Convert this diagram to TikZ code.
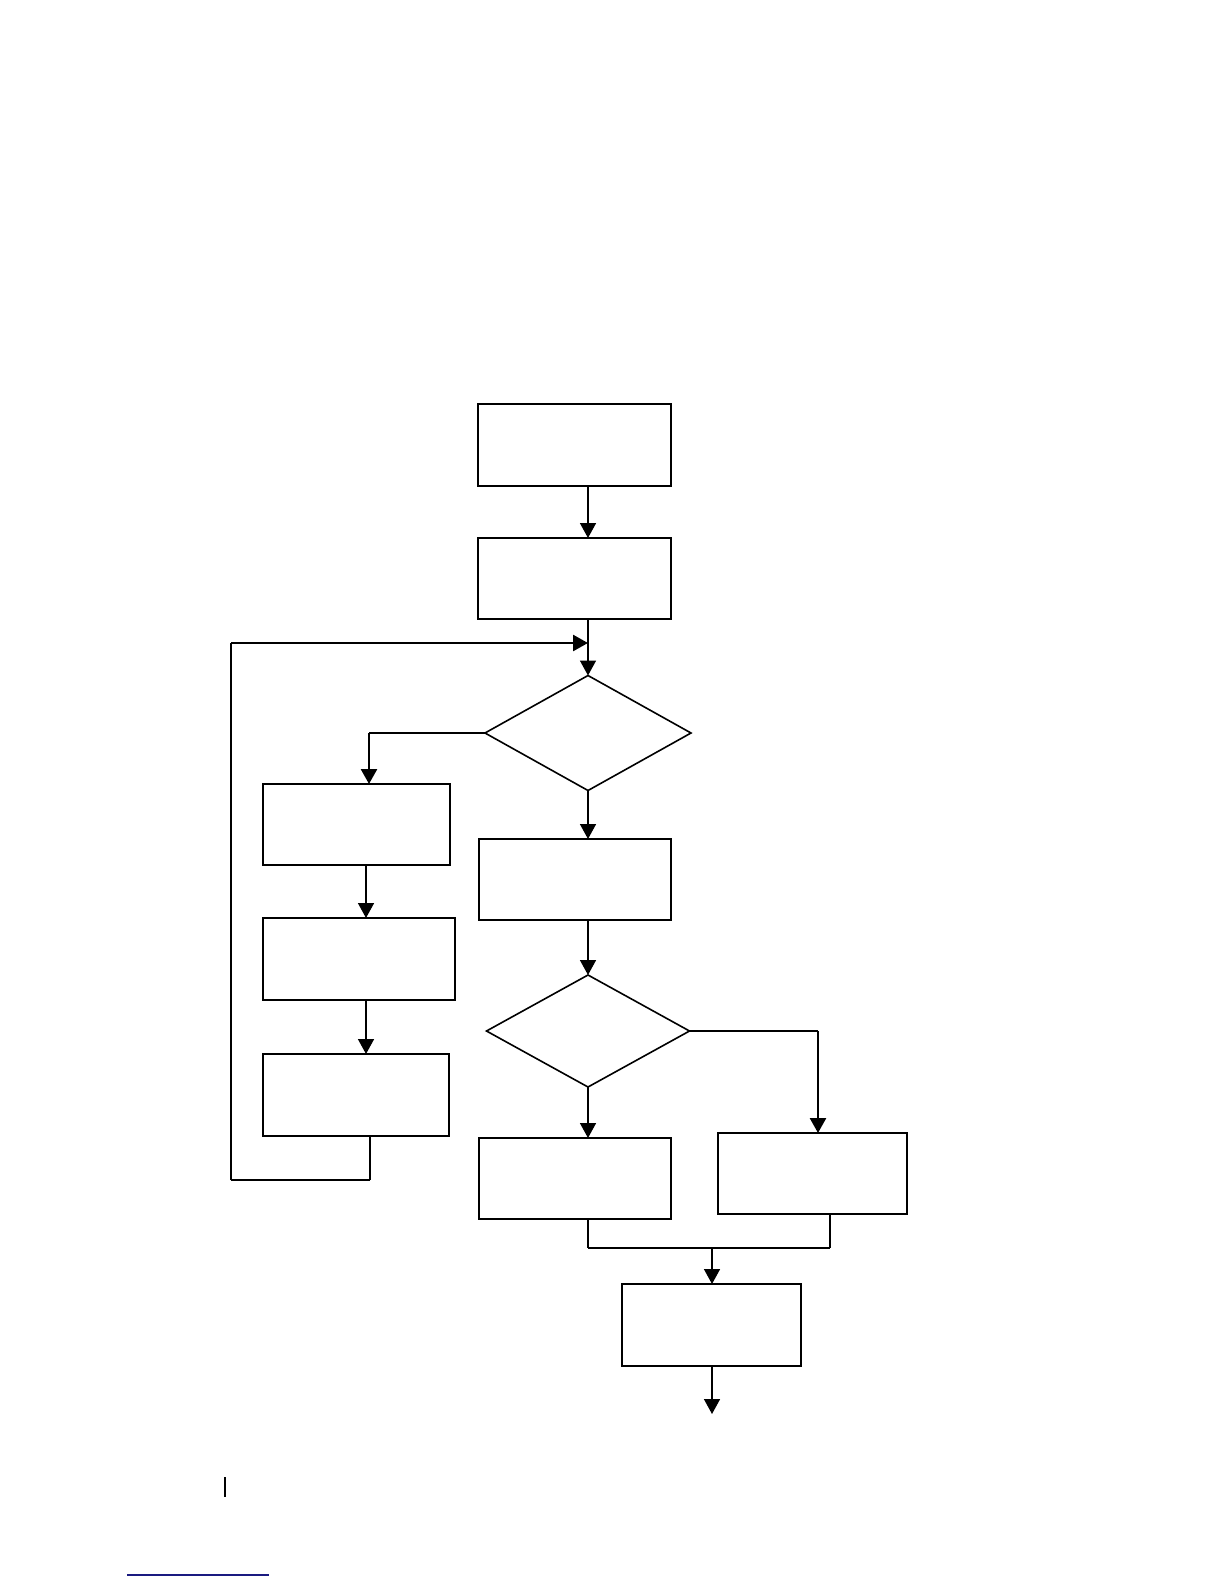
\documentclass[tikz,border=0pt]{standalone}
\usetikzlibrary{shapes.geometric,arrows.meta}
\definecolor{linkblue}{RGB}{26,26,128}
\begin{document}
\begin{tikzpicture}[x=0.5pt,y=-0.5pt,
  stepbox/.style={draw,rectangle,line width=1pt,inner sep=0pt,outer sep=0pt},
  decide/.style={draw,diamond,line width=0.8pt,inner sep=0pt,outer sep=0pt},
  conn/.style={line width=0.8pt},
  heavy/.style={line width=1.3pt},
  arr/.style={conn,-{Triangle[width=8pt,length=7.5pt]}},
  harr/.style={heavy,-{Triangle[width=8pt,length=7.5pt]}}]
\useasboundingbox (0,0) rectangle (1224,1584);
% boxes
\node[stepbox,minimum width=96.5pt,minimum height=41pt] (b1) at (574.5,445) {};
\node[stepbox,minimum width=96.5pt,minimum height=40.5pt] (b2) at (574.5,578.5) {};
\node[decide,minimum width=103pt,minimum height=57.5pt,aspect=1.79] (d1) at (588,733) {};
\node[stepbox,minimum width=93.5pt,minimum height=40.5pt] (b3) at (356.5,824.5) {};
\node[stepbox,minimum width=96pt,minimum height=41pt] (b4) at (359,959) {};
\node[stepbox,minimum width=93pt,minimum height=41pt] (b5) at (356,1095) {};
\node[stepbox,minimum width=96pt,minimum height=40.5pt] (b6) at (575,879.5) {};
\node[decide,minimum width=101.5pt,minimum height=56pt,aspect=1.81] (d2) at (588,1031) {};
\node[stepbox,minimum width=96pt,minimum height=40.5pt] (b7) at (575,1178.5) {};
\node[stepbox,minimum width=94.5pt,minimum height=40.5pt] (b8) at (812.5,1173.5) {};
\node[stepbox,minimum width=89.5pt,minimum height=41pt] (b9) at (711.5,1325) {};
% helper coordinates
\coordinate (j) at (588,643);
\coordinate (l1) at (370,1180);
\coordinate (l2) at (231,1180);
\coordinate (l3) at (231,643);
\coordinate (k1) at (369,733);
\coordinate (r1) at (818,1031);
\coordinate (m1) at (588,1248);
\coordinate (m2) at (830,1248);
\coordinate (m3) at (712,1248);
\coordinate (e1) at (712,1414);
% connectors
\draw[arr] (b1.south -| j) -- (b2.north -| j);
\draw[arr] (b2.south -| j) -- (d1.north);
\draw[conn] (b5.south -| l1) -- (l1);
\draw[heavy] (l1) -- (l2);
\draw[conn] (l2) -- (l3);
\draw[harr] (l3) -- (j);
\draw[heavy] (d1.west) -- (k1);
\draw[harr] (k1) -- (b3.north -| k1);
\draw[arr] (b3.south -| 366,0) -- (b4.north -| 366,0);
\draw[arr] (b4.south -| 366,0) -- (b5.north -| 366,0);
\draw[arr] (d1.south) -- (b6.north -| d1.south);
\draw[arr] (b6.south -| d2.north) -- (d2.north);
\draw[arr] (d2.south) -- (b7.north -| d2.south);
\draw[conn] (d2.east) -- (r1);
\draw[harr] (r1) -- (b8.north -| r1);
\draw[conn] (b7.south -| m1) -- (m1);
\draw[heavy] (m1) -- (m2);
\draw[conn] (m2) -- (b8.south -| m2);
\draw[arr] (m3) -- (b9.north -| m3);
\draw[arr] (b9.south -| e1) -- (e1);
% page marks
\draw[line width=1.2pt] (225,1477) -- (225,1497);
\draw[linkblue,line width=0.8pt] (127,1575) -- (269,1575);
\end{tikzpicture}
\end{document}
